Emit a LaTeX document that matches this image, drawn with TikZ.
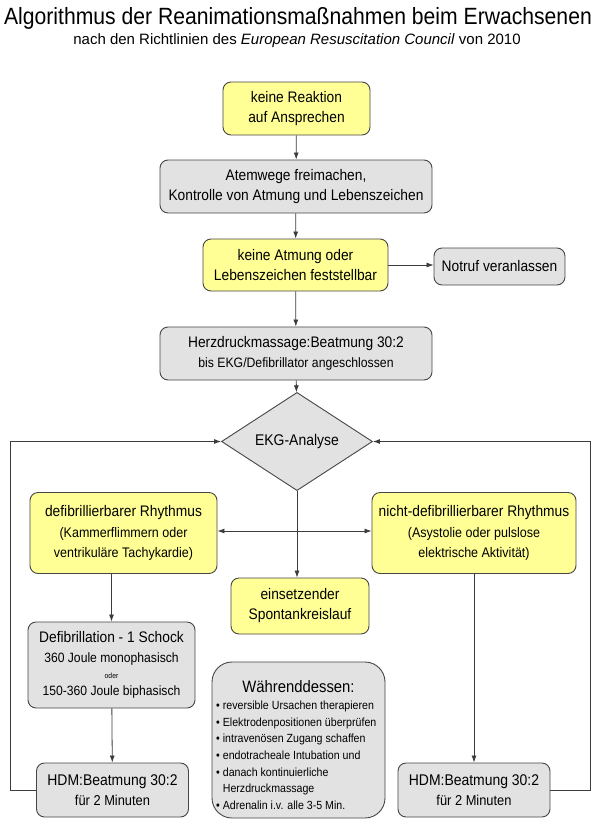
\documentclass[tikz,border=0pt]{standalone}
\usepackage{fontspec}
\setmainfont{Liberation Sans}[FakeStretch=0.9]
\newfontfamily\subfont{Liberation Sans}
\usetikzlibrary{shapes.geometric,arrows.meta}
\definecolor{boxyellow}{RGB}{255,255,150}
\definecolor{boxgray}{RGB}{226,226,226}
\definecolor{edgecol}{RGB}{70,70,70}
\definecolor{linecol}{RGB}{60,60,60}
\newcommand{\fsz}[2]{\fontsize{#1}{#2}\selectfont\ignorespaces}
\begin{document}
\begin{tikzpicture}[x=1pt,y=-1pt,
  base/.style={draw=edgecol, line width=0.9pt, rounded corners=8pt, align=center, inner sep=0pt, font=\fsz{15.3}{20}},
  ybox/.style={base, fill=boxyellow},
  gbox/.style={base, fill=boxgray},
  conn/.style={draw=linecol, line width=0.8pt, -{Latex[length=7pt,width=5pt]}}]
\useasboundingbox (0,0) rectangle (599,825);
\fill[white] (0,0) rectangle (599,825);

\node[font=\fsz{23.5}{26}] (title) at (298,18) {Algorithmus der Reanimationsmaßnahmen beim Erwachsenen};
\node[font=\subfont\fsz{15}{17}] (subtitle) at (297,41) {nach den Richtlinien des \textit{European Resuscitation Council} von 2010};

\node[ybox, minimum width=147, minimum height=53] (n1) at (296.5,108.5) {keine Reaktion\\auf Ansprechen};
\node[gbox, minimum width=272, minimum height=53] (n2) at (296,186.5) {Atemwege freimachen,\\Kontrolle von Atmung und Lebenszeichen};
\node[ybox, minimum width=185, minimum height=52] (n3) at (295.5,265) {keine Atmung oder\\Lebenszeichen feststellbar};
\node[gbox, minimum width=131, minimum height=37] (n4) at (499.5,266.5) {Notruf veranlassen};
\node[gbox, minimum width=272, minimum height=53] (n5) at (296,353.5) {Herzdruckmassage:Beatmung 30:2\\{\fsz{13.6}{17}bis EKG/Defibrillator angeschlossen}};
\node[diamond, draw=edgecol, line width=0.9pt, fill=boxgray, inner sep=0pt, minimum width=151, minimum height=75, font=\fsz{15.5}{18}] (ekg) at (297,441.5) {EKG-Analyse};

\node[ybox, minimum width=187, minimum height=81] (n7) at (123.5,533) {defibrillierbarer Rhythmus\\[1pt]{\fsz{13.9}{17}(Kammerflimmern oder}\\{\fsz{13.9}{17}ventrikuläre Tachykardie)}};
\node[ybox, minimum width=204, minimum height=81] (n8) at (474,533) {nicht-defibrillierbarer Rhythmus\\[1pt]{\fsz{13.9}{17}(Asystolie oder pulslose}\\{\fsz{13.9}{17}elektrische Aktivität)}};
\node[ybox, minimum width=138, minimum height=56] (n9) at (300,606) {einsetzender\\Spontankreislauf};

\node[gbox, minimum width=167, minimum height=86] (defi) at (111.5,665) {Defibrillation - 1 Schock\\{\fsz{13.5}{15}360 Joule monophasisch}\\[-4pt]{\fsz{7.5}{9}oder}\\[-3pt]{\fsz{13.5}{15}150-360 Joule biphasisch}};

\node[gbox, rounded corners=20pt, minimum width=173, minimum height=156] (during) at (298.5,740) {};
\node[font=\fsz{16.5}{18}] (durhead) at (298.5,687) {Währenddessen:};
\node[anchor=north west, align=left, inner sep=0pt, font=\fsz{11.8}{16.6}] (durlist) at (216,701) {• reversible Ursachen therapieren\\• Elektrodenpositionen überprüfen\\• intravenösen Zugang schaffen\\• endotracheale Intubation und\\• danach kontinuierliche\\\phantom{• }Herzdruckmassage\\• Adrenalin i.v. alle 3-5 Min.};

\node[gbox, minimum width=152, minimum height=54] (hdmL) at (112.5,790) {{\fsz{15.5}{19}HDM:Beatmung 30:2}\\{\fsz{14.3}{17}für 2 Minuten}};
\node[gbox, minimum width=152, minimum height=54] (hdmR) at (474,790) {{\fsz{15.5}{19}HDM:Beatmung 30:2}\\{\fsz{14.3}{17}für 2 Minuten}};

\coordinate (mid) at (297,531);
\coordinate (lc) at (10,441.5);
\coordinate (rc) at (590,441.5);

\draw[conn] (n1) -- (n2);
\draw[conn] (n2) -- (n3);
\draw[conn] (n3) -- (n5);
\draw[conn] (n3.east) -- (n3.east -| n4.west);
\draw[conn] (n5) -- (ekg);
\draw[conn] (ekg.south) -- (n9.north -| ekg.south);
\draw[conn] (mid) -- (n7.east |- mid);
\draw[conn] (mid) -- (n8.west |- mid);
\draw[conn] (defi.north |- n7.south) -- (defi.north);
\draw[conn] (defi) -- (hdmL);
\draw[conn] (hdmR.north |- n8.south) -- (hdmR.north);
\draw[conn] (hdmL.west) -| (lc) -- (ekg.west);
\draw[conn] (hdmR.east) -| (rc) -- (ekg.east);
\end{tikzpicture}
\end{document}
